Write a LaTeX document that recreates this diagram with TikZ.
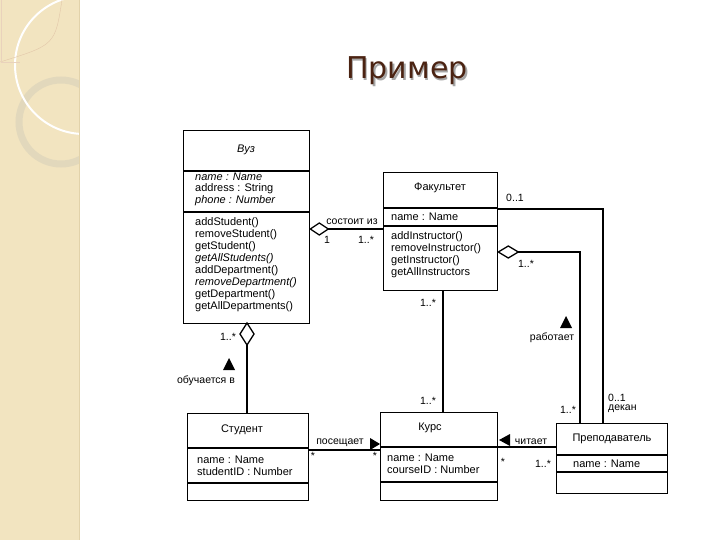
\documentclass[tikz,border=0pt]{standalone}
\usepackage{fontspec}
\setmainfont{Liberation Sans}
\newfontfamily\titlefont{DejaVu Sans}
\definecolor{strip}{RGB}{242,228,192}
\definecolor{stripedge}{RGB}{226,210,170}
\definecolor{ringcol}{RGB}{226,216,188}
\definecolor{titlecol}{RGB}{75,35,18}
\begin{document}
\begin{tikzpicture}[x=1pt,y=-1pt,
  cls/.style={draw, line width=1.3pt, anchor=north west, inner sep=0pt},
  txt/.style={anchor=west, inner sep=0pt, font=\fontsize{11}{12}\selectfont},
  ttl/.style={anchor=center, inner sep=0pt, font=\fontsize{11}{12}\selectfont},
  lbl/.style={inner sep=0pt, font=\fontsize{10.5}{11}\selectfont},
  conn/.style={line width=1.3pt},
  dia/.style={line width=1.3pt, fill=white, line join=miter},
  tri/.style={fill=black}]
\useasboundingbox (0,0) rectangle (720,540);
\fill[white] (0,0) rectangle (720,540);
% decorative strip
\fill[strip] (0,0) rectangle (79,540);
\begin{scope}
  \clip (0,0) rectangle (79,540);
  \draw[ringcol, line width=7pt] (61,122) circle (42);
  \draw[white, line width=2pt] (84,65) circle (69);
  \draw[brown!45, line width=0.4pt] (62,0) .. controls (55,45) .. (0,62);
  \draw[brown!35, line width=0.4pt] (1,0) -- (1,62) -- (20,62);
\end{scope}
\draw[stripedge, line width=1pt] (79,0) -- (79,540);
% title
\node[anchor=base, inner sep=0pt, font=\titlefont\fontsize{30}{34}\selectfont, text=black!35] (titleshadow) at (408.5,80.5) {Пример};
\node[anchor=base, inner sep=0pt, font=\titlefont\fontsize{30}{34}\selectfont, text=titlecol] (title) at (407,79) {Пример};

% ---------- Вуз ----------
\node[cls, minimum width=126pt, minimum height=193pt] (vuz) at (183,130) {};
\draw[conn] (vuz.west |- 0,171) -- (vuz.east |- 0,171);
\draw[conn] (vuz.west |- 0,212) -- (vuz.east |- 0,212);
\node[ttl, font=\fontsize{11}{12}\selectfont\itshape] (vuzn) at (246,150) {Вуз};
\node[txt, font=\fontsize{11}{12}\selectfont\itshape] (vuza1) at (195,177) {name : Name};
\node[txt] (vuza2) at (195,189) {address : String};
\node[txt, font=\fontsize{11}{12}\selectfont\itshape] (vuza3) at (195,201) {phone : Number};
\node[txt] (vuzo1) at (195,223) {addStudent()};
\node[txt] (vuzo2) at (195,235) {removeStudent()};
\node[txt] (vuzo3) at (195,247) {getStudent()};
\node[txt, font=\fontsize{11}{12}\selectfont\itshape] (vuzo4) at (195,259) {getAllStudents()};
\node[txt] (vuzo5) at (195,271) {addDepartment()};
\node[txt, font=\fontsize{11}{12}\selectfont\itshape] (vuzo6) at (195,283) {removeDepartment()};
\node[txt] (vuzo7) at (195,295) {getDepartment()};
\node[txt] (vuzo8) at (195,307) {getAllDepartments()};

% ---------- Факультет ----------
\node[cls, minimum width=114pt, minimum height=118pt] (fak) at (383,172) {};
\draw[conn] (fak.west |- 0,208) -- (fak.east |- 0,208);
\draw[conn] (fak.west |- 0,226) -- (fak.east |- 0,226);
\node[ttl] (fakn) at (440,188) {Факультет};
\node[txt] (faka1) at (391,217) {name : Name};
\node[txt] (fako1) at (391,237) {addInstructor()};
\node[txt] (fako2) at (391,249) {removeInstructor()};
\node[txt] (fako3) at (391,261) {getInstructor()};
\node[txt] (fako4) at (391,273) {getAllInstructors};

% ---------- Студент ----------
\node[cls, minimum width=121pt, minimum height=87pt] (stud) at (187,413) {};
\draw[conn] (stud.west |- 0,448) -- (stud.east |- 0,448);
\draw[conn] (stud.west |- 0,483) -- (stud.east |- 0,483);
\node[ttl] (studn) at (242,430) {Студент};
\node[txt] (studa1) at (197,460) {name : Name};
\node[txt] (studa2) at (197,472) {studentID : Number};

% ---------- Курс ----------
\node[cls, minimum width=117pt, minimum height=88pt] (kurs) at (380,412) {};
\draw[conn] (kurs.west |- 0,447) -- (kurs.east |- 0,447);
\draw[conn] (kurs.west |- 0,482) -- (kurs.east |- 0,482);
\node[ttl] (kursn) at (430,428) {Курс};
\node[txt] (kursa1) at (387,458) {name : Name};
\node[txt] (kursa2) at (387,470) {courseID : Number};

% ---------- Преподаватель ----------
\node[cls, minimum width=111pt, minimum height=70pt] (prep) at (556,423) {};
\draw[conn] (prep.west |- 0,455) -- (prep.east |- 0,455);
\draw[conn] (prep.west |- 0,472) -- (prep.east |- 0,472);
\node[ttl] (prepn) at (612,439) {Преподаватель};
\node[txt] (prepa1) at (573,464) {name : Name};

% ---------- Вуз — Факультет (состоит из) ----------
\coordinate (d1a) at (vuz.east |- 0,229);
\draw[dia] (d1a) -- ++(9,-6) -- ++(9,6) -- ++(-9,6) -- cycle;
\coordinate (d1b) at (327,229);
\draw[conn] (d1b) -- (fak.west |- d1b);
\node[lbl] (l1) at (352,222) {состоит из};
\node[lbl] (l1a) at (327,240) {1};
\node[lbl] (l1b) at (366,240) {1..*};

% ---------- Факультет — Преподаватель (декан) ----------
\coordinate (c2a) at (fak.east |- 0,209);
\coordinate (c2b) at (603,209);
\draw[conn] (c2a) -- (c2b) -- (c2b |- prep.north);
\node[lbl] (l2a) at (515,198) {0..1};
\node[lbl, anchor=west] (l2b) at (608,398) {0..1};
\node[lbl, anchor=west] (l2c) at (608,409) {декан};

% ---------- Факультет — Преподаватель (работает) ----------
\coordinate (d3a) at (fak.east |- 0,252);
\draw[dia] (d3a) -- ++(10,-6) -- ++(10,6) -- ++(-10,6) -- cycle;
\coordinate (d3b) at (517,252);
\coordinate (c3) at (580,252);
\draw[conn] (d3b) -- (c3) -- (c3 |- prep.north);
\node[lbl] (l3a) at (526,264) {1..*};
\node[lbl] (l3b) at (568,410) {1..*};
\node[lbl] (l3c) at (552,338) {работает};
\fill[tri] (566,316) -- (572,328) -- (560,328) -- cycle;

% ---------- Вуз — Студент (обучается в) ----------
\coordinate (d4a) at (247,323);
\draw[dia] (d4a) -- ++(7,11) -- ++(-7,11) -- ++(-7,-11) -- cycle;
\coordinate (d4b) at (247,345);
\draw[conn] (d4b) -- (d4b |- stud.north);
\node[lbl] (l4a) at (228,337) {1..*};
\node[lbl] (l4b) at (206,381) {обучается в};
\fill[tri] (229,358) -- (235,370) -- (223,370) -- cycle;

% ---------- Студент — Курс (посещает) ----------
\coordinate (c5) at (stud.east |- 0,450);
\draw[conn] (c5) -- (kurs.west |- c5);
\node[lbl] (l5) at (340,443) {посещает};
\node[lbl] (l5a) at (313,456) {*};
\node[lbl] (l5b) at (375,456) {*};
\fill[tri] (370,438) -- (380,444) -- (370,450) -- cycle;

% ---------- Курс — Преподаватель (читает) ----------
\coordinate (c6) at (kurs.east |- 0,447);
\draw[conn] (c6) -- (prep.west |- c6);
\node[lbl] (l6) at (531,442) {читает};
\fill[tri] (499,440) -- (510,434) -- (510,446) -- cycle;
\node[lbl] (l6a) at (503,462) {*};
\node[lbl] (l6b) at (543,464) {1..*};

% ---------- Факультет — Курс ----------
\coordinate (c7) at (443,290);
\draw[conn] (c7) -- (c7 |- kurs.north);
\node[lbl] (l7a) at (428,303) {1..*};
\node[lbl] (l7b) at (428,401) {1..*};
\end{tikzpicture}
\end{document}
